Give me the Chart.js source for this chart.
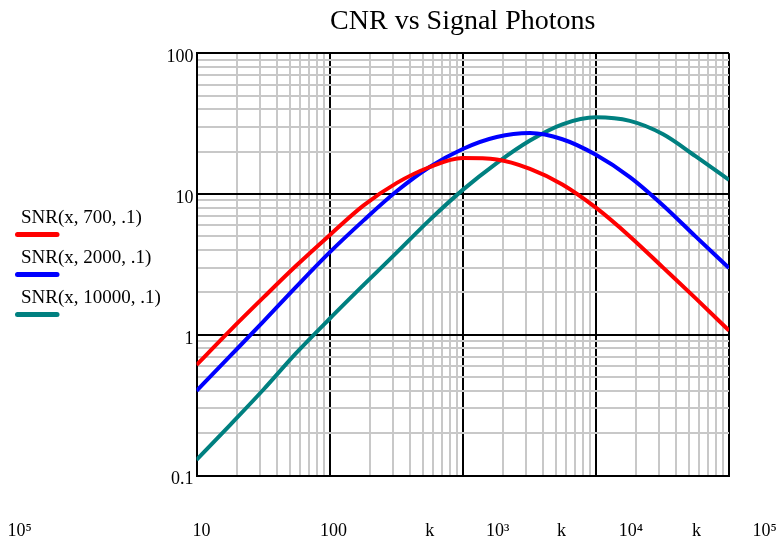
<!DOCTYPE html>
<html>
<head>
<meta charset="utf-8">
<script src="https://cdn.jsdelivr.net/npm/chart.js@4.4.1/dist/chart.umd.min.js"></script>
<style>
  html, body { margin: 0; padding: 0; background: #fff; }
</style>
</head>
<body>
<canvas id="cnrChart" width="779" height="540"></canvas>
<script>
// values
const photons = [10, 18, 32, 56, 100, 180, 320, 560, 1000, 1800, 3200, 5600, 10000, 18000, 32000, 56000, 100000];
const snr700 = [0.61, 1.08, 1.85, 3.09, 5.1, 8.3, 12.0, 15.5, 18.0, 17.6, 15.1, 11.7, 8.0, 5.0, 3.0, 1.82, 1.07];
const snr2000 = [0.40, 0.71, 1.25, 2.19, 3.85, 6.5, 10.5, 15.5, 20.9, 25.4, 27.1, 24.5, 19.0, 13.2, 8.3, 5.0, 2.98];
const snr10000 = [0.129, 0.23, 0.41, 0.74, 1.30, 2.26, 3.85, 6.5, 10.7, 16.6, 24.0, 31.3, 35.1, 33.1, 26.6, 18.6, 12.6];

const seriesLabels = ['SNR(x, 700, .1)', 'SNR(x, 2000, .1)', 'SNR(x, 10000, .1)'];
const seriesColors = ['#ff0000', '#0000ff', '#008080'];

const yTickValues = [0.1, 1, 10, 100];
const yTickLabels = ['0.1', '1', '10', '100'];
const xDecades = [10, 100, 1000, 10000, 100000];
// the bottom label row is offset in the original, kept as it is
const xLabelValues = [0.47, 10.9, 107, 566, 1830, 5520, 18300, 56900, 185000];
const xLabelTexts = ['10\u2075', '10', '100', 'k', '10\u00B3', 'k', '10\u2074', 'k', '10\u2075'];

const serif = "'Liberation Serif', 'Times New Roman', serif";

function withMinors(decades) {
    const out = [];
    decades.forEach((d, i) => {
        if (i === decades.length - 1) { out.push(d); return; }
        for (let m = 1; m < 10; m++) out.push(d * m);
    });
    return out;
}
const isDecade = v => Math.abs(Math.log10(v) - Math.round(Math.log10(v))) < 1e-6;

const gridStyle = {
    drawTicks: false,
    color: c => (c.tick && isDecade(c.tick.value)) ? '#000000' : '#c8c8c8',
    lineWidth: 2,
};

// Mathcad style legend: text with the line sample under it
const sideLegend = {
    id: 'sideLegend',
    afterDraw(chart) {
        const ctx = chart.ctx;
        ctx.save();
        ctx.font = '19px ' + serif;
        ctx.textBaseline = 'middle';
        chart.data.datasets.forEach((ds, i) => {
            const y = 218 + i * 40;
            ctx.fillStyle = '#000';
            ctx.fillText(ds.label, 21, y);
            ctx.strokeStyle = ds.borderColor;
            ctx.lineWidth = 5;
            ctx.lineCap = 'round';
            ctx.beginPath();
            ctx.moveTo(17.5, y + 16.5);
            ctx.lineTo(57, y + 16.5);
            ctx.stroke();
        });
        ctx.restore();
    }
};

const allSeries = [snr700, snr2000, snr10000];

new Chart(document.getElementById('cnrChart').getContext('2d'), {
    type: 'line',
    data: {
        datasets: allSeries.map((s, k) => ({
            label: seriesLabels[k],
            data: photons.map((x, i) => ({ x: x, y: s[i] })),
            borderColor: seriesColors[k],
            backgroundColor: seriesColors[k],
            borderWidth: 4,
            pointRadius: 0,
            cubicInterpolationMode: 'monotone',
            fill: false,
            xAxisID: 'x',
            yAxisID: 'y',
        })),
    },
    options: {
        responsive: false,
        animation: false,
        devicePixelRatio: 1,
        layout: { padding: { left: 0, right: 50, top: 0, bottom: 0 } },
        plugins: {
            legend: { display: false },
            tooltip: { enabled: false },
            title: {
                display: true,
                text: 'CNR vs Signal Photons',
                fullSize: false,
                color: '#000',
                font: { family: serif, size: 28, weight: 'normal' },
                padding: { top: 5, bottom: 14.7 },
            },
        },
        scales: {
            x: {
                type: 'logarithmic',
                position: 'bottom',
                min: 10,
                max: 100000,
                afterBuildTicks: s => { s.ticks = withMinors(xDecades).map(v => ({ value: v })); },
                afterFit: s => { s.height = 0; s.paddingLeft = 0; s.paddingRight = 0; },
                grid: gridStyle,
                border: { color: '#000', width: 2 },
                ticks: { display: false },
            },
            xl: {
                type: 'logarithmic',
                position: 'bottom',
                min: 10,
                max: 100000,
                afterBuildTicks: s => { s.ticks = xLabelValues.map(v => ({ value: v })); },
                afterFit: s => { s.height = 64.5; s.paddingLeft = 0; s.paddingRight = 0; },
                grid: { display: false, drawTicks: false },
                border: { display: false },
                ticks: {
                    autoSkip: false,
                    maxRotation: 0,
                    minRotation: 0,
                    padding: 45,
                    color: '#000',
                    font: { family: serif, size: 18 },
                    callback: (v, i) => xLabelTexts[i],
                },
            },
            y: {
                type: 'logarithmic',
                min: 0.1,
                max: 100,
                afterBuildTicks: s => { s.ticks = withMinors(yTickValues).map(v => ({ value: v })); },
                afterFit: s => { s.width = 196.5; s.paddingTop = 0; s.paddingBottom = 0; },
                grid: gridStyle,
                border: { color: '#000', width: 2 },
                ticks: {
                    autoSkip: false,
                    padding: 3,
                    labelOffset: 4,
                    color: '#000',
                    font: { family: serif, size: 18 },
                    callback: v => {
                        const i = yTickValues.findIndex(t => Math.abs(t - v) / t < 1e-6);
                        return i >= 0 ? yTickLabels[i] : '';
                    },
                },
            },
        },
    },
    plugins: [sideLegend],
});
</script>
</body>
</html>
